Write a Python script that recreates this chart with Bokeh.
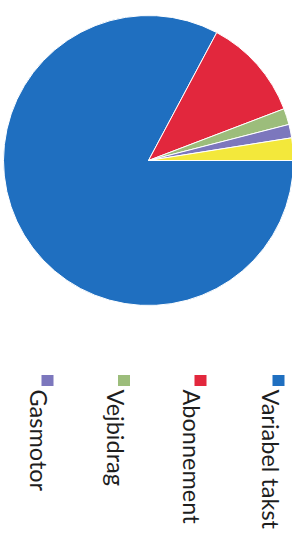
import math
from bokeh.plotting import figure
from bokeh.models import ColumnDataSource, Range1d
from bokeh.embed import file_html
from bokeh.resources import INLINE
from bokeh.core.properties import value

# ---- data ----
categories = ["Variabel takst", "Abonnement", "Vejbidrag", "Gasmotor", "Andet"]
shares = [82.8, 11.4, 1.8, 1.5, 2.5]          # percent
colors = ["#1f6fc0", "#e2273d", "#9cbd7b", "#7c77bd", "#f3e83b"]
legend_items = ["Variabel takst", "Abonnement", "Vejbidrag", "Gasmotor"]
legend_colors = ["#1f6fc0", "#e2273d", "#9cbd7b", "#7c77bd"]

W, H = 292, 532

# layout (picture pixel coordinates from top-left; converted to y-up)
def Y(py):
    return H - py

cx, cy, R = 148, Y(160), 145

starts, ends = [], []
cum = 0.0
total = sum(shares)
for s in shares:
    starts.append(-cum / total * 2 * math.pi)
    cum += s
    ends.append(-cum / total * 2 * math.pi)

src = ColumnDataSource(dict(cat=categories, share=shares, color=colors,
                            start=starts, end=ends))

p = figure(width=W, height=H, x_range=Range1d(0, W), y_range=Range1d(0, H),
           output_backend="svg", toolbar_location=None, min_border=0,
           x_axis_location=None, y_axis_location=None)
p.grid.visible = False
p.outline_line_color = None
p.background_fill_color = "#ffffff"
p.border_fill_color = "#ffffff"

p.wedge(x=cx, y=cy, radius=R, start_angle="start", end_angle="end",
        direction="clock", fill_color="color", line_color="#ffffff",
        line_width=1, source=src)

# rotated legend (reads top to bottom)
sq_x = [278, 200, 123.5, 47]
sq_y = Y(380)
txt_x = [270, 191, 115, 38]
txt_y = Y(389)
leg = ColumnDataSource(dict(label=legend_items, color=legend_colors,
                            sx=sq_x, tx=txt_x))
p.rect(x="sx", y=sq_y, width=12, height=11, fill_color="color",
       line_color=None, source=leg)
p.text(x="tx", y=txt_y, text="label", angle=-math.pi / 2,
       text_align="left", text_baseline="alphabetic",
       text_font=value("Lato"), text_font_size="23.5px",
       text_color="#1e1e1e", source=leg)

open("out.html", "w").write(file_html(p, INLINE))
